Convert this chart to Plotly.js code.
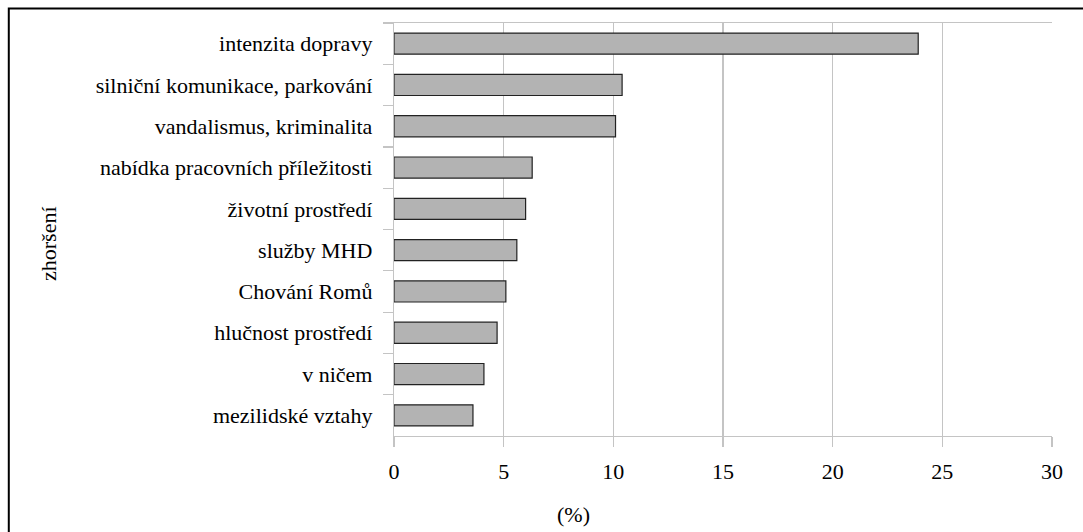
<!DOCTYPE html>
<html>
<head>
<meta charset="utf-8">
<script src="https://cdn.plot.ly/plotly-3.0.1.min.js"></script>
<style>
html,body{margin:0;padding:0;background:#fff;}
#chart{width:1083px;height:532px;}
</style>
</head>
<body>
<div id="chart"></div>
<script>
var categories = [
  "intenzita dopravy",
  "silniční komunikace, parkování",
  "vandalismus, kriminalita",
  "nabídka pracovních příležitosti",
  "životní prostředí",
  "služby MHD",
  "Chování Romů",
  "hlučnost prostředí",
  "v ničem",
  "mezilidské vztahy"
];
var values = [23.9, 10.4, 10.1, 6.3, 6.0, 5.6, 5.1, 4.7, 4.1, 3.6];
var xTickValues = [0, 5, 10, 15, 20, 25, 30];
var yTitle = "zhoršení";
var xTitle = "(%)";

var W = 1083, H = 532;
var mL = 393.5, mR = 31, mT = 22.5, mB = 96;
var pw = W - mL - mR, ph = H - mT - mB;
function px2x(p){ return (p - mL) / pw; }
function py2y(p){ return (H - mB - p) / ph; }

var font = "Liberation Serif";
var fs = 22;

var trace = {
  type: "bar",
  orientation: "h",
  x: values,
  y: categories,
  marker: {color: "#b3b3b3", line: {color: "#222222", width: 1.2}},
  hoverinfo: "x+y"
};

var layout = {
  width: W, height: H,
  margin: {l: mL, r: mR, t: mT, b: mB, pad: 0},
  paper_bgcolor: "#ffffff",
  plot_bgcolor: "#ffffff",
  showlegend: false,
  bargap: 0.49,
  font: {family: font, size: fs, color: "#000"},
  xaxis: {
    range: [0, 30],
    tickvals: xTickValues,
    ticktext: xTickValues.map(String),
    showgrid: true, gridcolor: "#c4c4c4", gridwidth: 1.2,
    showline: true, linecolor: "#c4c4c4", linewidth: 1.2, mirror: true,
    ticks: "outside", ticklen: 10, tickcolor: "#c4c4c4", tickwidth: 1.2,
    ticklabelstandoff: 5,
    zeroline: false,
    tickfont: {family: font, size: fs, color: "#000"},
    fixedrange: true
  },
  yaxis: {
    type: "category",
    autorange: "reversed",
    showgrid: false,
    showline: true, linecolor: "#c4c4c4", linewidth: 1.2,
    ticks: "outside", ticklen: 10, tickcolor: "#c4c4c4", tickwidth: 1.2,
    tickson: "boundaries",
    ticklabelstandoff: 16,
    tickfont: {family: font, size: fs, color: "#000"},
    fixedrange: true
  },
  annotations: [
    {text: yTitle, xref: "paper", yref: "paper", x: px2x(47), y: py2y(243),
     showarrow: false, textangle: -90, xanchor: "center", yanchor: "middle",
     font: {family: font, size: fs, color: "#000"}},
    {text: xTitle, xref: "paper", yref: "paper", x: px2x(573), y: py2y(515),
     showarrow: false, xanchor: "center", yanchor: "middle",
     font: {family: font, size: fs, color: "#000"}}
  ],
  shapes: [
    {type: "rect", xref: "paper", yref: "paper",
     x0: px2x(8), x1: px2x(1095), y0: py2y(545), y1: py2y(8),
     line: {color: "#000", width: 2}, fillcolor: "rgba(0,0,0,0)", layer: "above"}
  ]
};

Plotly.newPlot("chart", [trace], layout, {displayModeBar: false, staticPlot: true});
</script>
</body>
</html>
